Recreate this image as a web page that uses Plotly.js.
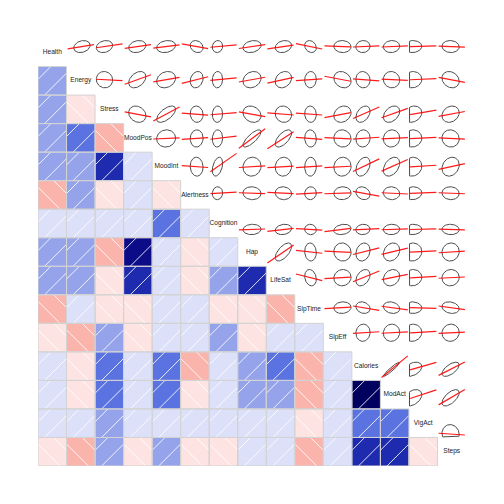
<!DOCTYPE html>
<html><head><meta charset="utf-8">
<script src="https://cdn.plot.ly/plotly-3.0.1.min.js"></script>
<style>html,body{margin:0;padding:0;background:#fff}#chart{width:504px;height:504px}</style>
</head><body><div id="chart"></div>
<script>
// Variable names (diagonal labels)
const variables = ["Health","Energy","Stress","MoodPos","MoodInt","Alertness","Cognition",
  "Hap","LifeSat","SlpTime","SlpEff","Calories","ModAct","VigAct","Steps"];

// Lower-triangle correlations, row i lists r(i, j) for j < i
const corrLower = [
  [],
  [0.22],
  [0.20, -0.05],
  [0.20, 0.38, -0.20],
  [0.20, 0.20, 0.62, 0.05],
  [-0.20, 0.20, -0.06, 0.05, -0.05],
  [0.08, 0.06, 0.05, 0.07, 0.38, 0.05],
  [0.22, 0.20, -0.20, 0.78, 0.06, -0.05, 0.06],
  [0.20, 0.22, -0.08, 0.62, 0.05, -0.06, 0.18, 0.62],
  [-0.20, 0.05, -0.05, -0.05, 0.04, 0.05, -0.06, -0.07, -0.18],
  [-0.05, -0.20, 0.20, -0.05, 0.05, 0.04, 0.20, -0.05, 0.06, 0.08],
  [0.05, -0.06, 0.38, 0.06, 0.36, -0.20, 0.07, 0.20, 0.36, -0.20, 0.05],
  [0.06, -0.05, 0.36, 0.05, 0.38, -0.06, 0.05, 0.22, 0.20, -0.20, 0.05, 0.95],
  [0.04, 0.05, 0.20, 0.05, 0.06, 0.05, 0.05, 0.05, 0.06, -0.05, 0.06, 0.38, 0.38],
  [-0.06, -0.20, 0.20, -0.05, 0.20, -0.05, -0.04, 0.06, 0.05, -0.20, 0.05, 0.62, 0.62, -0.06]
];

// Per-variable mean position and standard deviation, as fractions of each panel's range
const meanFrac = [0.70, 0.54, 0.33, 0.48, 0.49, 0.56, 0.29, 0.50, 0.60, 0.55, 0.67, 0.39, 0.39, 0.12, 0.46];
const sdFrac   = [0.14, 0.19, 0.19, 0.20, 0.22, 0.15, 0.12, 0.21, 0.19, 0.135, 0.20, 0.165, 0.19, 0.22, 0.20];

// Shading palette (14 bins from -1 to 1)
const binColors = ["#FF0000","#FB4F3F","#F98A7A","#F89A8E","#F9A79D","#FAB4AC","#FDE4E2",
  "#DCE0F8","#95A3EA","#5A73E0","#3A55C8","#1E2BAE","#0C0C88","#00005E"];

const n = variables.length;
function corr(i, j) { if (i === j) return 1; return i > j ? corrLower[i][j] : corrLower[j][i]; }
function binIndex(r) { const k = Math.floor((r + 1) / 2 * binColors.length); return Math.min(binColors.length - 1, Math.max(0, k)); }
function X(j, u) { return j + u; }
function Y(i, v) { return i + 1 - v; }

const traces = [];
const fills = {};
const hx = [], hy = [], bx = [], by = [];
const hatchOffsets = [0.55, -0.23];

for (let i = 1; i < n; i++) {
  for (let j = 0; j < i; j++) {
    const r = corr(i, j);
    const b = binIndex(r);
    if (!fills[b]) fills[b] = {x: [], y: []};
    const sq = [[0,0],[1,0],[1,1],[0,1],[0,0]];
    sq.forEach(p => { fills[b].x.push(X(j, p[0])); fills[b].y.push(Y(i, p[1])); });
    fills[b].x.push(null); fills[b].y.push(null);
    sq.forEach(p => { bx.push(X(j, p[0])); by.push(Y(i, p[1])); });
    bx.push(null); by.push(null);
    hatchOffsets.forEach(c => {
      let a, e;
      if (c >= 0) { a = [0, c]; e = [1 - c, 1]; } else { a = [-c, 0]; e = [1, 1 + c]; }
      if (r < 0) { a = [1 - a[0], a[1]]; e = [1 - e[0], e[1]]; }
      hx.push(X(j, a[0]), X(j, e[0]), null);
      hy.push(Y(i, a[1]), Y(i, e[1]), null);
    });
  }
}

Object.keys(fills).forEach(b => {
  traces.push({type: "scatter", mode: "lines", x: fills[b].x, y: fills[b].y, fill: "toself",
    fillcolor: binColors[b], line: {width: 0, color: binColors[b]}, hoverinfo: "skip", connectgaps: false});
});
traces.push({type: "scatter", mode: "lines", x: hx, y: hy, line: {color: "rgba(255,255,255,0.85)", width: 1}, hoverinfo: "skip"});
traces.push({type: "scatter", mode: "lines", x: bx, y: by, line: {color: "#D3D3D3", width: 1}, hoverinfo: "skip"});

// Upper panel: data ellipses and smooth lines
const radius = Math.sqrt(-2 * Math.log(0.32));
const ex = [], ey = [], lx = [], ly = [];
const clamp = (v, lo, hi) => Math.min(hi, Math.max(lo, v));
for (let i = 0; i < n; i++) {
  for (let j = i + 1; j < n; j++) {
    const r = corr(i, j);
    const mx = meanFrac[j], sx = sdFrac[j], my = meanFrac[i], sy = sdFrac[i];
    const seg = 75;
    for (let k = 0; k < seg; k++) {
      const t = 2 * Math.PI * k / (seg - 1);
      const u = mx + radius * Math.cos(t) * sx;
      const v = my + radius * (Math.cos(t) * r * sy + Math.sin(t) * sy * Math.sqrt(1 - r * r));
      ex.push(X(j, clamp(u, 0.02, 0.98))); ey.push(Y(i, clamp(v, 0.02, 0.98)));
    }
    ex.push(null); ey.push(null);
    const slope = r * sy / sx;
    let u0 = 0.04, u1 = 0.96;
    if (Math.abs(slope) > 1e-9) {
      const ua = mx + (0.02 - my) / slope, ub = mx + (0.98 - my) / slope;
      const lo = Math.min(ua, ub), hi = Math.max(ua, ub);
      u0 = Math.max(u0, lo); u1 = Math.min(u1, hi);
    }
    lx.push(X(j, u0), X(j, u1), null);
    ly.push(Y(i, my + slope * (u0 - mx)), Y(i, my + slope * (u1 - mx)), null);
  }
}
traces.push({type: "scatter", mode: "lines", x: ex, y: ey, line: {color: "#4D4D4D", width: 1}, hoverinfo: "skip"});
traces.push({type: "scatter", mode: "lines", x: lx, y: ly, line: {color: "rgba(255,0,0,0.9)", width: 1.2}, hoverinfo: "skip"});

// Diagonal labels
traces.push({type: "scatter", mode: "text",
  x: variables.map((_, k) => k + 0.5), y: variables.map((_, k) => k + 0.5),
  text: variables, textposition: "middle center",
  textfont: {family: "Liberation Sans, Arial, sans-serif", size: 6.6, color: "#222"}, hoverinfo: "skip"});

const layout = {
  width: 504, height: 504,
  margin: {l: 38, r: 38, t: 38, b: 38, pad: 0},
  paper_bgcolor: "#fff", plot_bgcolor: "#fff",
  showlegend: false, hovermode: false,
  xaxis: {range: [0, n], visible: false, fixedrange: true},
  yaxis: {range: [n, 0], visible: false, fixedrange: true}
};
Plotly.newPlot("chart", traces, layout, {displayModeBar: false, staticPlot: true});
</script></body></html>
